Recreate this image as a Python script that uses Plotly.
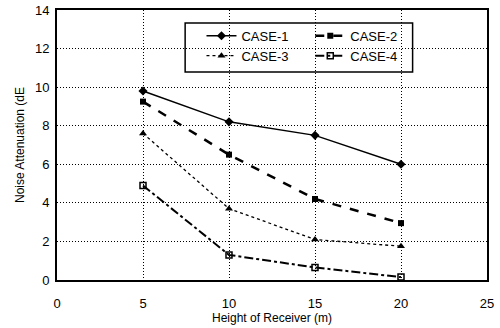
import plotly.graph_objects as go

heights = [5, 10, 15, 20]
case1 = [9.8, 8.2, 7.5, 6.0]
case2 = [9.25, 6.5, 4.2, 2.95]
case3 = [7.6, 3.7, 2.1, 1.75]
case4 = [4.9, 1.3, 0.65, 0.15]
xticks = [0, 5, 10, 15, 20, 25]
yticks = [0, 2, 4, 6, 8, 10, 12, 14]

fam = "Liberation Sans, Arial, sans-serif"
font = dict(family=fam, size=12, color="black")
tickfont = dict(family=fam, size=13, color="black")
legfont = dict(family=fam, size=13, color="black")

fig = go.Figure()
fig.add_trace(go.Scatter(x=heights, y=case1, name="CASE-1", mode="lines+markers",
                         line=dict(color="black", width=1.5, dash="solid"),
                         marker=dict(symbol="diamond", size=7, color="black"),
                         legend="legend"))
fig.add_trace(go.Scatter(x=heights, y=case2, name="CASE-2", mode="lines+markers",
                         line=dict(color="black", width=2.5, dash="dash"),
                         marker=dict(symbol="square", size=6, color="black"),
                         legend="legend2"))
fig.add_trace(go.Scatter(x=heights, y=case3, name="CASE-3", mode="lines+markers",
                         line=dict(color="black", width=1.3, dash="dot"),
                         marker=dict(symbol="triangle-up", size=7, color="black"),
                         legend="legend"))
fig.add_trace(go.Scatter(x=heights, y=case4, name="CASE-4", mode="lines+markers",
                         line=dict(color="black", width=2, dash="dashdot"),
                         marker=dict(symbol="square-open", size=6, color="black", line=dict(width=1.5)),
                         legend="legend2"))

leg_common = dict(bgcolor="rgba(0,0,0,0)", borderwidth=0, font=legfont,
                  orientation="v", tracegroupgap=0, itemwidth=30,
                  xanchor="left", yanchor="top")
fig.update_layout(
    width=500, height=328,
    margin=dict(l=57, r=13, t=10, b=48),
    paper_bgcolor="white", plot_bgcolor="white",
    font=font,
    showlegend=True,
    legend=dict(x=0.336, y=0.96, **leg_common),
    legend2=dict(x=0.589, y=0.96, **leg_common),
    xaxis=dict(range=[0, 25], tickvals=xticks, showgrid=True, gridcolor="black",
               griddash="1px,2px", gridwidth=1, showline=True, linecolor="black",
               linewidth=2, mirror=True, ticks="", zeroline=False,
               ticklabelstandoff=10, tickfont=tickfont, automargin=False,
               title=dict(text="Height of Receiver (m)", font=font, standoff=4)),
    yaxis=dict(range=[0, 14], tickvals=yticks, showgrid=True, gridcolor="black",
               griddash="1px,2px", gridwidth=1, showline=True, linecolor="black",
               linewidth=2, mirror=True, ticks="", zeroline=False,
               ticklabelstandoff=3, tickfont=tickfont, automargin=False,
               title=dict(text="Noise Attenuation (dE", font=font, standoff=8)),
    shapes=[dict(type="rect", xref="paper", yref="paper",
                 x0=0.298, x1=0.827, y0=0.77, y1=0.952,
                 line=dict(color="black", width=1.5), fillcolor="white", layer="between")],
)
fig.write_html("out.html", config={"displayModeBar": False},
               post_script="document.body.style.margin='0';")
